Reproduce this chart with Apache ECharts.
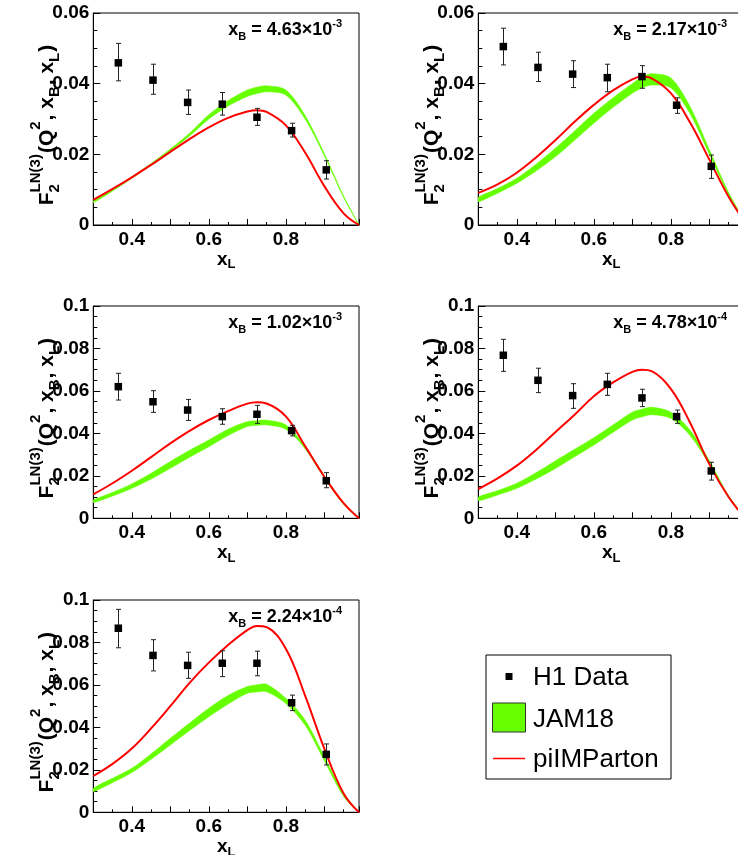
<!DOCTYPE html>
<html><head><meta charset="utf-8">
<script src="https://cdn.jsdelivr.net/npm/echarts@6/dist/echarts.min.js"></script>
<style>html,body{margin:0;padding:0;background:#fff}#c{width:738px;height:855px}</style>
</head><body><div id="c"></div>
<script>
// ---------------- data ----------------
const curveX = [0.30,0.35,0.40,0.45,0.50,0.55,0.60,0.65,0.70,0.725,0.75,0.80,0.85,0.90,0.95,0.99];
const dataX  = [0.365,0.455,0.545,0.635,0.725,0.815,0.905];
const xTickLabels = [0.4,0.6,0.8];
const xBMantissa = ['4.63','2.17','1.02','4.78','2.24'];
const xBExponent = ['-3','-3','-3','-4','-4'];
const yMaxes = [0.06,0.06,0.1,0.1,0.1];

// panel 1: xB = 4.63e-3
const h1Value1 = [0.0459,0.0410,0.0347,0.0342,0.0305,0.0267,0.0156];
const h1Low1   = [0.0408,0.0370,0.0313,0.0311,0.0282,0.0249,0.0130];
const h1High1  = [0.0514,0.0455,0.0382,0.0375,0.0330,0.0288,0.0182];
const jamLow1  = [0.0063,0.0096,0.0132,0.0170,0.0210,0.0252,0.0300,0.0337,0.0364,0.0372,0.0377,0.0368,0.0300,0.0196,0.0078,0];
const jamHigh1 = [0.0068,0.0100,0.0136,0.0174,0.0215,0.0260,0.0312,0.0352,0.0382,0.0390,0.0394,0.0382,0.0310,0.0202,0.0082,0];
const imparton1= [0.0071,0.0102,0.0135,0.0170,0.0207,0.0243,0.0276,0.0303,0.0321,0.0325,0.0320,0.0282,0.0205,0.0110,0.0033,0];

// panel 2: xB = 2.17e-3
const h1Value2 = [0.0505,0.0446,0.0427,0.0417,0.0420,0.0339,0.0166];
const h1Low2   = [0.0453,0.0406,0.0389,0.0377,0.0387,0.0316,0.0132];
const h1High2  = [0.0557,0.0489,0.0465,0.0455,0.0451,0.0360,0.0198];
const jamLow2  = [0.0066,0.0090,0.0118,0.0153,0.0193,0.0240,0.0288,0.0333,0.0373,0.0388,0.0396,0.0388,0.0315,0.0200,0.0085,0.0010];
const jamHigh2 = [0.0078,0.0103,0.0132,0.0172,0.0217,0.0266,0.0316,0.0360,0.0400,0.0418,0.0428,0.0416,0.0335,0.0213,0.0092,0.0014];
const imparton2= [0.0091,0.0115,0.0148,0.0191,0.0240,0.0292,0.0340,0.0381,0.0412,0.0420,0.0415,0.0373,0.0290,0.0185,0.0080,0.0012];

// panel 3: xB = 1.02e-3
const h1Value3 = [0.0620,0.0549,0.0510,0.0479,0.0490,0.0413,0.0177];
const h1Low3   = [0.0557,0.0499,0.0461,0.0443,0.0447,0.0388,0.0144];
const h1High3  = [0.0683,0.0601,0.0560,0.0516,0.0532,0.0438,0.0215];
const jamLow3  = [0.0074,0.0105,0.0141,0.0185,0.0236,0.0288,0.0337,0.0390,0.0432,0.0438,0.0440,0.0420,0.0328,0.0190,0.0065,0];
const jamHigh3 = [0.0086,0.0122,0.0162,0.0212,0.0267,0.0320,0.0369,0.0420,0.0455,0.0460,0.0462,0.0440,0.0340,0.0200,0.0072,0];
const imparton3= [0.0113,0.0165,0.0224,0.0288,0.0353,0.0412,0.0463,0.0505,0.0540,0.0547,0.0541,0.0480,0.0340,0.0196,0.0071,0];

// panel 4: xB = 4.78e-4
const h1Value4 = [0.0768,0.0650,0.0578,0.0631,0.0567,0.0479,0.0223];
const h1Low4   = [0.0692,0.0592,0.0518,0.0579,0.0526,0.0447,0.0180];
const h1High4  = [0.0843,0.0707,0.0634,0.0683,0.0608,0.0510,0.0264];
const jamLow4  = [0.0083,0.0110,0.0141,0.0185,0.0235,0.0290,0.0345,0.0405,0.0463,0.0478,0.0488,0.0471,0.0390,0.0255,0.0098,0.0008];
const jamHigh4 = [0.0100,0.0130,0.0165,0.0215,0.0270,0.0325,0.0380,0.0440,0.0500,0.0514,0.0523,0.0500,0.0415,0.0272,0.0106,0.0010];
const imparton4= [0.0138,0.0188,0.0248,0.0322,0.0405,0.0488,0.0575,0.0640,0.0690,0.0700,0.0693,0.0610,0.0450,0.0255,0.0100,0.0008];

// panel 5: xB = 2.24e-4
const h1Value5 = [0.0867,0.0739,0.0692,0.0702,0.0702,0.0516,0.0273];
const h1Low5   = [0.0775,0.0666,0.0631,0.0639,0.0643,0.0479,0.0223];
const h1High5  = [0.0956,0.0813,0.0754,0.0761,0.0759,0.0552,0.0322];
const jamLow5  = [0.0097,0.0140,0.0187,0.0250,0.0317,0.0385,0.0450,0.0510,0.0561,0.0567,0.0568,0.0513,0.0411,0.0243,0.0075,0];
const jamHigh5 = [0.0113,0.0160,0.0207,0.0275,0.0349,0.0420,0.0490,0.0550,0.0592,0.0600,0.0603,0.0537,0.0435,0.0262,0.0089,0];
const imparton5= [0.0171,0.0228,0.0300,0.0395,0.0500,0.0610,0.0705,0.0788,0.0858,0.0878,0.0872,0.0770,0.0550,0.0300,0.0089,0];

const legendNames = ['H1 Data','JAM18','piIMParton'];

// ---------------- layout / style ----------------
const FONT = '"Liberation Sans", Arial, sans-serif';
const GREEN = '#66ff00', RED = '#ff0000';
const panels = [
  {val:h1Value1, lo:h1Low1, hi:h1High1, jl:jamLow1, jh:jamHigh1, red:imparton1},
  {val:h1Value2, lo:h1Low2, hi:h1High2, jl:jamLow2, jh:jamHigh2, red:imparton2},
  {val:h1Value3, lo:h1Low3, hi:h1High3, jl:jamLow3, jh:jamHigh3, red:imparton3},
  {val:h1Value4, lo:h1Low4, hi:h1High4, jl:jamLow4, jh:jamHigh4, red:imparton4},
  {val:h1Value5, lo:h1Low5, hi:h1High5, jl:jamLow5, jh:jamHigh5, red:imparton5}
];
const gridPos = [
  {left:93.3,  top:13,  width:265.7, height:212},
  {left:478.3, top:13,  width:265.7, height:212},
  {left:93.3,  top:306, width:265.7, height:212.3},
  {left:478.3, top:306, width:265.7, height:212.3},
  {left:93.3,  top:600, width:265.7, height:212.3}
];

const measureCtx = document.createElement('canvas').getContext('2d');
function textW(t, f){ measureCtx.font = f; return measureCtx.measureText(t).width; }

function yTitle(bx, cy){
  const MF = 'bold 21px ' + FONT, SF = 'bold 15px ' + FONT;
  const parts = []; let x = 0;
  const main = t => { parts.push({t, f:MF, x, y:-6.5}); x += textW(t, MF); };
  const sup = t => { parts.push({t, f:SF, x, y:-17}); return textW(t, SF) + 1; };
  const sub = t => { parts.push({t, f:SF, x, y:1.5}); return textW(t, SF) + 1; };
  main('F'); x += Math.max(sup('LN(3)'), sub('2'));
  main('(Q'); x += sup('2');
  main(', x'); x += sub('B');
  main(', x'); x += sub('L');
  main(')');
  const total = x;
  return {type:'group', x:bx, y:cy, rotation:Math.PI/2, silent:true,
    children: parts.map(p => ({type:'text', x:p.x - total/2, y:p.y,
      style:{text:p.t, font:p.f, fill:'#000', align:'left', verticalAlign:'middle', textAlign:'left', textVerticalAlign:'middle'}}))};
}

function xBLabel(i){
  const g = gridPos[i];
  return {type:'text', x:g.left + 135, y:g.top + 17.5, silent:true,
    style:{
      text:'{m|x}{s|B}{m| = ' + xBMantissa[i] + '×10}{p|' + xBExponent[i] + '}',
      fill:'#000', verticalAlign:'middle', textVerticalAlign:'middle', align:'left',
      rich:{
        m:{fontSize:18, fontWeight:'bold', fontFamily:FONT, lineHeight:24, fill:'#000', color:'#000'},
        s:{fontSize:11, fontWeight:'bold', fontFamily:FONT, lineHeight:12, verticalAlign:'bottom', fill:'#000', color:'#000'},
        p:{fontSize:11, fontWeight:'bold', fontFamily:FONT, lineHeight:12, verticalAlign:'top', fill:'#000', color:'#000'}
      }
    }};
}

const legendGraphic = {type:'group', silent:true, children:[
  {type:'rect', shape:{x:486, y:655, width:185, height:124}, style:{fill:'#fff', stroke:'#000', lineWidth:1}},
  {type:'rect', shape:{x:505.5, y:673, width:7, height:7}, style:{fill:'#000'}},
  {type:'text', x:533, y:678, style:{text:legendNames[0], font:'26px ' + FONT, fill:'#000', verticalAlign:'middle', textVerticalAlign:'middle'}},
  {type:'rect', shape:{x:492.5, y:703, width:33, height:29}, style:{fill:GREEN, stroke:'#333', lineWidth:1}},
  {type:'text', x:533, y:719.5, style:{text:legendNames[1], font:'26px ' + FONT, fill:'#000', verticalAlign:'middle', textVerticalAlign:'middle'}},
  {type:'line', shape:{x1:493, y1:758.5, x2:525, y2:758.5}, style:{stroke:RED, lineWidth:1.5}},
  {type:'text', x:533, y:760, style:{text:legendNames[2], font:'26px ' + FONT, fill:'#000', verticalAlign:'middle', textVerticalAlign:'middle'}}
]};

const grids = [], xAxes = [], yAxes = [], series = [], graphics = [];
panels.forEach((p, i) => {
  const g = gridPos[i];
  grids.push(Object.assign({show:true, borderColor:'#000', borderWidth:1, backgroundColor:'transparent',
    containLabel:false, outerBoundsMode:'none'}, g));
  xAxes.push({type:'value', gridIndex:i, min:0.3, max:0.99, interval:0.1,
    axisLine:{show:true, onZero:false, lineStyle:{color:'#000', width:1}},
    axisTick:{show:true, inside:true, length:6, lineStyle:{color:'#000', width:1}},
    minorTick:{show:true, splitNumber:2, length:3, lineStyle:{color:'#000', width:1}},
    splitLine:{show:false}, minorSplitLine:{show:false},
    axisLabel:{show:true, margin:5, color:'#000', fontSize:19, fontWeight:'bold', fontFamily:FONT,
      formatter: v => { const r = Math.round(v*10)/10; return (Math.abs(v - r) < 1e-6 && xTickLabels.indexOf(r) >= 0) ? r.toFixed(1) : ''; }},
    name:'{m|x}{s|L}', nameLocation:'middle', nameGap:15,
    nameTextStyle:{rich:{
      m:{fontSize:19, fontWeight:'bold', fontFamily:FONT, color:'#000', lineHeight:24},
      s:{fontSize:13, fontWeight:'bold', fontFamily:FONT, color:'#000', lineHeight:9, verticalAlign:'bottom'}
    }}
  });
  yAxes.push({type:'value', gridIndex:i, min:0, max:yMaxes[i], interval:0.02,
    axisLine:{show:true, onZero:false, lineStyle:{color:'#000', width:1}},
    axisTick:{show:true, inside:true, length:7, lineStyle:{color:'#000', width:1}},
    minorTick:{show:true, splitNumber:4, length:4, lineStyle:{color:'#000', width:1}},
    splitLine:{show:false}, minorSplitLine:{show:false},
    axisLabel:{show:true, margin:4, color:'#000', fontSize:19, fontWeight:'bold', fontFamily:FONT,
      formatter: v => v === 0 ? '0' : String(+v.toFixed(3))}
  });
  // JAM18 band
  series.push({type:'custom', name:legendNames[1], xAxisIndex:i, yAxisIndex:i, clip:true, silent:true, z:2,
    data:[[0.5, 0.01]],
    renderItem:(params, api) => {
      const up = curveX.map((x, k) => api.coord([x, p.jh[k]]));
      const lo = curveX.map((x, k) => api.coord([x, p.jl[k]])).reverse();
      const pts = [];
      up.concat(lo).forEach(pt => {
        const last = pts[pts.length - 1];
        if (!last || Math.abs(last[0]-pt[0]) > 0.01 || Math.abs(last[1]-pt[1]) > 0.01) pts.push(pt);
      });
      return {type:'polygon', shape:{points:pts, smooth:0.3}, style:{fill:GREEN, stroke:GREEN, lineWidth:0.6}};
    }});
  // piIMParton
  series.push({type:'line', name:legendNames[2], xAxisIndex:i, yAxisIndex:i, z:3, silent:true,
    data: curveX.map((x, k) => [x, p.red[k]]), smooth:0.4, symbol:'none', showSymbol:false,
    lineStyle:{color:RED, width:2}, itemStyle:{color:RED}});
  // error bars
  series.push({type:'custom', name:legendNames[0] + ' err', xAxisIndex:i, yAxisIndex:i, z:4, silent:true,
    data: dataX.map((x, k) => [x, p.lo[k], p.hi[k]]),
    renderItem:(params, api) => {
      const a = api.coord([api.value(0), api.value(2)]);
      const b = api.coord([api.value(0), api.value(1)]);
      const st = {stroke:'#222', lineWidth:1};
      const cx = Math.round(a[0]) + 0.5;
      return {type:'group', children:[
        {type:'line', shape:{x1:cx, y1:a[1], x2:cx, y2:b[1]}, style:st},
        {type:'line', shape:{x1:cx-2.5, y1:a[1], x2:cx+2.5, y2:a[1]}, style:st},
        {type:'line', shape:{x1:cx-2.5, y1:b[1], x2:cx+2.5, y2:b[1]}, style:st}
      ]};
    }});
  // H1 data squares
  series.push({type:'scatter', name:legendNames[0], xAxisIndex:i, yAxisIndex:i, z:5, silent:true,
    data: dataX.map((x, k) => [x, p.val[k]]), symbol:'rect', symbolSize:7.5,
    itemStyle:{color:'#000', opacity:1}});

  graphics.push(yTitle(g.left - 40, g.top + g.height/2 + 6));
  graphics.push(xBLabel(i));
});
graphics.push(legendGraphic);

const chart = echarts.init(document.getElementById('c'), null, {renderer:'canvas', width:738, height:855});
chart.setOption({
  animation:false, backgroundColor:'#fff',
  tooltip:{show:false}, legend:{show:false},
  grid:grids, xAxis:xAxes, yAxis:yAxes, series:series, graphic:graphics
});
</script></body></html>
